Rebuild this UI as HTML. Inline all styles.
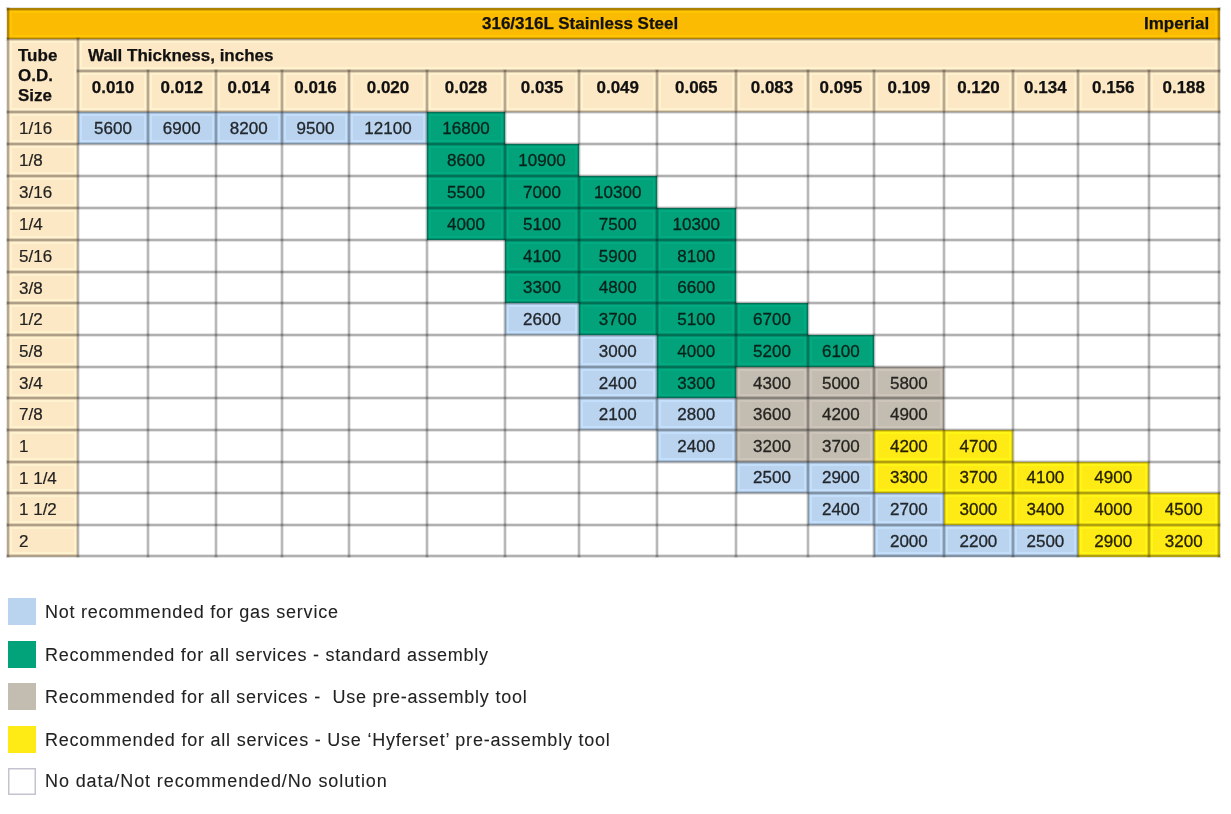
<!DOCTYPE html>
<html><head><meta charset="utf-8"><title>316/316L Stainless Steel - Imperial</title><style>
html,body{margin:0;padding:0;background:#fff;width:1231px;height:814px;overflow:hidden;position:relative}
div,i{position:absolute;box-sizing:border-box;display:block}
body{font-family:"Liberation Sans",sans-serif}
#w{position:absolute;left:0;top:0;width:1231px;height:814px;}
.b{font-weight:bold;-webkit-text-stroke:0.25px currentColor}
.t{font-size:17px;color:#111}
.hd{font-size:17px;color:#111}
.c{text-align:center}
.lb{font-size:17px;color:#222;-webkit-text-stroke:0.2px currentColor}
.n{font-size:17px;-webkit-text-stroke:0.3px currentColor}
.lg{font-size:18px;letter-spacing:0.72px;color:#222;white-space:nowrap;-webkit-text-stroke:0.08px currentColor}
</style></head><body><div id="w">
<i style="left:7px;top:7.5px;width:1213px;height:31.5px;background:#fbbb02"></i>
<i style="left:7px;top:39px;width:1213px;height:73px;background:#fde8c5"></i>
<i style="left:7px;top:112px;width:71px;height:445px;background:#fde8c5"></i>
<i style="left:78px;top:112px;width:70px;height:32px;background:#bad4ef"></i>
<i style="left:148px;top:112px;width:67.5px;height:32px;background:#bad4ef"></i>
<i style="left:215.5px;top:112px;width:66.5px;height:32px;background:#bad4ef"></i>
<i style="left:282px;top:112px;width:67px;height:32px;background:#bad4ef"></i>
<i style="left:349px;top:112px;width:78px;height:32px;background:#bad4ef"></i>
<i style="left:427px;top:112px;width:78px;height:32px;background:#02a27b"></i>
<i style="left:427px;top:144px;width:78px;height:32px;background:#02a27b"></i>
<i style="left:505px;top:144px;width:74px;height:32px;background:#02a27b"></i>
<i style="left:427px;top:176px;width:78px;height:32px;background:#02a27b"></i>
<i style="left:505px;top:176px;width:74px;height:32px;background:#02a27b"></i>
<i style="left:579px;top:176px;width:77.5px;height:32px;background:#02a27b"></i>
<i style="left:427px;top:208px;width:78px;height:32px;background:#02a27b"></i>
<i style="left:505px;top:208px;width:74px;height:32px;background:#02a27b"></i>
<i style="left:579px;top:208px;width:77.5px;height:32px;background:#02a27b"></i>
<i style="left:656.5px;top:208px;width:79.5px;height:32px;background:#02a27b"></i>
<i style="left:505px;top:240px;width:74px;height:31.5px;background:#02a27b"></i>
<i style="left:579px;top:240px;width:77.5px;height:31.5px;background:#02a27b"></i>
<i style="left:656.5px;top:240px;width:79.5px;height:31.5px;background:#02a27b"></i>
<i style="left:505px;top:271.5px;width:74px;height:31.5px;background:#02a27b"></i>
<i style="left:579px;top:271.5px;width:77.5px;height:31.5px;background:#02a27b"></i>
<i style="left:656.5px;top:271.5px;width:79.5px;height:31.5px;background:#02a27b"></i>
<i style="left:505px;top:303px;width:74px;height:32px;background:#bad4ef"></i>
<i style="left:579px;top:303px;width:77.5px;height:32px;background:#02a27b"></i>
<i style="left:656.5px;top:303px;width:79.5px;height:32px;background:#02a27b"></i>
<i style="left:736px;top:303px;width:72px;height:32px;background:#02a27b"></i>
<i style="left:579px;top:335px;width:77.5px;height:32px;background:#bad4ef"></i>
<i style="left:656.5px;top:335px;width:79.5px;height:32px;background:#02a27b"></i>
<i style="left:736px;top:335px;width:72px;height:32px;background:#02a27b"></i>
<i style="left:808px;top:335px;width:65.7px;height:32px;background:#02a27b"></i>
<i style="left:579px;top:367px;width:77.5px;height:31px;background:#bad4ef"></i>
<i style="left:656.5px;top:367px;width:79.5px;height:31px;background:#02a27b"></i>
<i style="left:736px;top:367px;width:72px;height:31px;background:#c3bcb1"></i>
<i style="left:808px;top:367px;width:65.7px;height:31px;background:#c3bcb1"></i>
<i style="left:873.7px;top:367px;width:70.3px;height:31px;background:#c3bcb1"></i>
<i style="left:579px;top:398px;width:77.5px;height:32px;background:#bad4ef"></i>
<i style="left:656.5px;top:398px;width:79.5px;height:32px;background:#bad4ef"></i>
<i style="left:736px;top:398px;width:72px;height:32px;background:#c3bcb1"></i>
<i style="left:808px;top:398px;width:65.7px;height:32px;background:#c3bcb1"></i>
<i style="left:873.7px;top:398px;width:70.3px;height:32px;background:#c3bcb1"></i>
<i style="left:656.5px;top:430px;width:79.5px;height:31.5px;background:#bad4ef"></i>
<i style="left:736px;top:430px;width:72px;height:31.5px;background:#c3bcb1"></i>
<i style="left:808px;top:430px;width:65.7px;height:31.5px;background:#c3bcb1"></i>
<i style="left:873.7px;top:430px;width:70.3px;height:31.5px;background:#feea14"></i>
<i style="left:944px;top:430px;width:68.8px;height:31.5px;background:#feea14"></i>
<i style="left:736px;top:461.5px;width:72px;height:31.5px;background:#bad4ef"></i>
<i style="left:808px;top:461.5px;width:65.7px;height:31.5px;background:#bad4ef"></i>
<i style="left:873.7px;top:461.5px;width:70.3px;height:31.5px;background:#feea14"></i>
<i style="left:944px;top:461.5px;width:68.8px;height:31.5px;background:#feea14"></i>
<i style="left:1012.8px;top:461.5px;width:65.2px;height:31.5px;background:#feea14"></i>
<i style="left:1078px;top:461.5px;width:70.5px;height:31.5px;background:#feea14"></i>
<i style="left:808px;top:493px;width:65.7px;height:32px;background:#bad4ef"></i>
<i style="left:873.7px;top:493px;width:70.3px;height:32px;background:#bad4ef"></i>
<i style="left:944px;top:493px;width:68.8px;height:32px;background:#feea14"></i>
<i style="left:1012.8px;top:493px;width:65.2px;height:32px;background:#feea14"></i>
<i style="left:1078px;top:493px;width:70.5px;height:32px;background:#feea14"></i>
<i style="left:1148.5px;top:493px;width:71.5px;height:32px;background:#feea14"></i>
<i style="left:873.7px;top:525px;width:70.3px;height:32px;background:#bad4ef"></i>
<i style="left:944px;top:525px;width:68.8px;height:32px;background:#bad4ef"></i>
<i style="left:1012.8px;top:525px;width:65.2px;height:32px;background:#bad4ef"></i>
<i style="left:1078px;top:525px;width:70.5px;height:32px;background:#feea14"></i>
<i style="left:1148.5px;top:525px;width:71.5px;height:32px;background:#feea14"></i>
<i style="left:10px;top:10.5px;width:1207px;height:26.5px;border:2px solid rgb(12,12,12);mix-blend-mode:color-dodge"></i>
<i style="left:10px;top:41px;width:66px;height:69px;border:2px solid rgb(12,12,12);mix-blend-mode:color-dodge"></i>
<i style="left:80px;top:41px;width:1137px;height:28px;border:2px solid rgb(12,12,12);mix-blend-mode:color-dodge"></i>
<i style="left:80px;top:73px;width:66px;height:37px;border:2px solid rgb(12,12,12);mix-blend-mode:color-dodge"></i>
<i style="left:150px;top:73px;width:63.5px;height:37px;border:2px solid rgb(12,12,12);mix-blend-mode:color-dodge"></i>
<i style="left:217.5px;top:73px;width:62.5px;height:37px;border:2px solid rgb(12,12,12);mix-blend-mode:color-dodge"></i>
<i style="left:284px;top:73px;width:63px;height:37px;border:2px solid rgb(12,12,12);mix-blend-mode:color-dodge"></i>
<i style="left:351px;top:73px;width:74px;height:37px;border:2px solid rgb(12,12,12);mix-blend-mode:color-dodge"></i>
<i style="left:429px;top:73px;width:74px;height:37px;border:2px solid rgb(12,12,12);mix-blend-mode:color-dodge"></i>
<i style="left:507px;top:73px;width:70px;height:37px;border:2px solid rgb(12,12,12);mix-blend-mode:color-dodge"></i>
<i style="left:581px;top:73px;width:73.5px;height:37px;border:2px solid rgb(12,12,12);mix-blend-mode:color-dodge"></i>
<i style="left:658.5px;top:73px;width:75.5px;height:37px;border:2px solid rgb(12,12,12);mix-blend-mode:color-dodge"></i>
<i style="left:738px;top:73px;width:68px;height:37px;border:2px solid rgb(12,12,12);mix-blend-mode:color-dodge"></i>
<i style="left:810px;top:73px;width:61.7px;height:37px;border:2px solid rgb(12,12,12);mix-blend-mode:color-dodge"></i>
<i style="left:875.7px;top:73px;width:66.3px;height:37px;border:2px solid rgb(12,12,12);mix-blend-mode:color-dodge"></i>
<i style="left:946px;top:73px;width:64.8px;height:37px;border:2px solid rgb(12,12,12);mix-blend-mode:color-dodge"></i>
<i style="left:1014.8px;top:73px;width:61.2px;height:37px;border:2px solid rgb(12,12,12);mix-blend-mode:color-dodge"></i>
<i style="left:1080px;top:73px;width:66.5px;height:37px;border:2px solid rgb(12,12,12);mix-blend-mode:color-dodge"></i>
<i style="left:1150.5px;top:73px;width:66.5px;height:37px;border:2px solid rgb(12,12,12);mix-blend-mode:color-dodge"></i>
<i style="left:10px;top:114px;width:66px;height:28px;border:2px solid rgb(12,12,12);mix-blend-mode:color-dodge"></i>
<i style="left:10px;top:146px;width:66px;height:28px;border:2px solid rgb(12,12,12);mix-blend-mode:color-dodge"></i>
<i style="left:10px;top:178px;width:66px;height:28px;border:2px solid rgb(12,12,12);mix-blend-mode:color-dodge"></i>
<i style="left:10px;top:210px;width:66px;height:28px;border:2px solid rgb(12,12,12);mix-blend-mode:color-dodge"></i>
<i style="left:10px;top:242px;width:66px;height:27.5px;border:2px solid rgb(12,12,12);mix-blend-mode:color-dodge"></i>
<i style="left:10px;top:273.5px;width:66px;height:27.5px;border:2px solid rgb(12,12,12);mix-blend-mode:color-dodge"></i>
<i style="left:10px;top:305px;width:66px;height:28px;border:2px solid rgb(12,12,12);mix-blend-mode:color-dodge"></i>
<i style="left:10px;top:337px;width:66px;height:28px;border:2px solid rgb(12,12,12);mix-blend-mode:color-dodge"></i>
<i style="left:10px;top:369px;width:66px;height:27px;border:2px solid rgb(12,12,12);mix-blend-mode:color-dodge"></i>
<i style="left:10px;top:400px;width:66px;height:28px;border:2px solid rgb(12,12,12);mix-blend-mode:color-dodge"></i>
<i style="left:10px;top:432px;width:66px;height:27.5px;border:2px solid rgb(12,12,12);mix-blend-mode:color-dodge"></i>
<i style="left:10px;top:463.5px;width:66px;height:27.5px;border:2px solid rgb(12,12,12);mix-blend-mode:color-dodge"></i>
<i style="left:10px;top:495px;width:66px;height:28px;border:2px solid rgb(12,12,12);mix-blend-mode:color-dodge"></i>
<i style="left:10px;top:527px;width:66px;height:27px;border:2px solid rgb(12,12,12);mix-blend-mode:color-dodge"></i>
<i style="left:80px;top:114px;width:66px;height:28px;border:2px solid rgb(12,12,12);mix-blend-mode:color-dodge"></i>
<i style="left:150px;top:114px;width:63.5px;height:28px;border:2px solid rgb(12,12,12);mix-blend-mode:color-dodge"></i>
<i style="left:217.5px;top:114px;width:62.5px;height:28px;border:2px solid rgb(12,12,12);mix-blend-mode:color-dodge"></i>
<i style="left:284px;top:114px;width:63px;height:28px;border:2px solid rgb(12,12,12);mix-blend-mode:color-dodge"></i>
<i style="left:351px;top:114px;width:74px;height:28px;border:2px solid rgb(12,12,12);mix-blend-mode:color-dodge"></i>
<i style="left:429px;top:114px;width:74px;height:28px;border:2px solid rgb(12,12,12);mix-blend-mode:color-dodge"></i>
<i style="left:429px;top:146px;width:74px;height:28px;border:2px solid rgb(12,12,12);mix-blend-mode:color-dodge"></i>
<i style="left:507px;top:146px;width:70px;height:28px;border:2px solid rgb(12,12,12);mix-blend-mode:color-dodge"></i>
<i style="left:429px;top:178px;width:74px;height:28px;border:2px solid rgb(12,12,12);mix-blend-mode:color-dodge"></i>
<i style="left:507px;top:178px;width:70px;height:28px;border:2px solid rgb(12,12,12);mix-blend-mode:color-dodge"></i>
<i style="left:581px;top:178px;width:73.5px;height:28px;border:2px solid rgb(12,12,12);mix-blend-mode:color-dodge"></i>
<i style="left:429px;top:210px;width:74px;height:28px;border:2px solid rgb(12,12,12);mix-blend-mode:color-dodge"></i>
<i style="left:507px;top:210px;width:70px;height:28px;border:2px solid rgb(12,12,12);mix-blend-mode:color-dodge"></i>
<i style="left:581px;top:210px;width:73.5px;height:28px;border:2px solid rgb(12,12,12);mix-blend-mode:color-dodge"></i>
<i style="left:658.5px;top:210px;width:75.5px;height:28px;border:2px solid rgb(12,12,12);mix-blend-mode:color-dodge"></i>
<i style="left:507px;top:242px;width:70px;height:27.5px;border:2px solid rgb(12,12,12);mix-blend-mode:color-dodge"></i>
<i style="left:581px;top:242px;width:73.5px;height:27.5px;border:2px solid rgb(12,12,12);mix-blend-mode:color-dodge"></i>
<i style="left:658.5px;top:242px;width:75.5px;height:27.5px;border:2px solid rgb(12,12,12);mix-blend-mode:color-dodge"></i>
<i style="left:507px;top:273.5px;width:70px;height:27.5px;border:2px solid rgb(12,12,12);mix-blend-mode:color-dodge"></i>
<i style="left:581px;top:273.5px;width:73.5px;height:27.5px;border:2px solid rgb(12,12,12);mix-blend-mode:color-dodge"></i>
<i style="left:658.5px;top:273.5px;width:75.5px;height:27.5px;border:2px solid rgb(12,12,12);mix-blend-mode:color-dodge"></i>
<i style="left:507px;top:305px;width:70px;height:28px;border:2px solid rgb(12,12,12);mix-blend-mode:color-dodge"></i>
<i style="left:581px;top:305px;width:73.5px;height:28px;border:2px solid rgb(12,12,12);mix-blend-mode:color-dodge"></i>
<i style="left:658.5px;top:305px;width:75.5px;height:28px;border:2px solid rgb(12,12,12);mix-blend-mode:color-dodge"></i>
<i style="left:738px;top:305px;width:68px;height:28px;border:2px solid rgb(12,12,12);mix-blend-mode:color-dodge"></i>
<i style="left:581px;top:337px;width:73.5px;height:28px;border:2px solid rgb(12,12,12);mix-blend-mode:color-dodge"></i>
<i style="left:658.5px;top:337px;width:75.5px;height:28px;border:2px solid rgb(12,12,12);mix-blend-mode:color-dodge"></i>
<i style="left:738px;top:337px;width:68px;height:28px;border:2px solid rgb(12,12,12);mix-blend-mode:color-dodge"></i>
<i style="left:810px;top:337px;width:61.7px;height:28px;border:2px solid rgb(12,12,12);mix-blend-mode:color-dodge"></i>
<i style="left:581px;top:369px;width:73.5px;height:27px;border:2px solid rgb(12,12,12);mix-blend-mode:color-dodge"></i>
<i style="left:658.5px;top:369px;width:75.5px;height:27px;border:2px solid rgb(12,12,12);mix-blend-mode:color-dodge"></i>
<i style="left:738px;top:369px;width:68px;height:27px;border:2px solid rgb(12,12,12);mix-blend-mode:color-dodge"></i>
<i style="left:810px;top:369px;width:61.7px;height:27px;border:2px solid rgb(12,12,12);mix-blend-mode:color-dodge"></i>
<i style="left:875.7px;top:369px;width:66.3px;height:27px;border:2px solid rgb(12,12,12);mix-blend-mode:color-dodge"></i>
<i style="left:581px;top:400px;width:73.5px;height:28px;border:2px solid rgb(12,12,12);mix-blend-mode:color-dodge"></i>
<i style="left:658.5px;top:400px;width:75.5px;height:28px;border:2px solid rgb(12,12,12);mix-blend-mode:color-dodge"></i>
<i style="left:738px;top:400px;width:68px;height:28px;border:2px solid rgb(12,12,12);mix-blend-mode:color-dodge"></i>
<i style="left:810px;top:400px;width:61.7px;height:28px;border:2px solid rgb(12,12,12);mix-blend-mode:color-dodge"></i>
<i style="left:875.7px;top:400px;width:66.3px;height:28px;border:2px solid rgb(12,12,12);mix-blend-mode:color-dodge"></i>
<i style="left:658.5px;top:432px;width:75.5px;height:27.5px;border:2px solid rgb(12,12,12);mix-blend-mode:color-dodge"></i>
<i style="left:738px;top:432px;width:68px;height:27.5px;border:2px solid rgb(12,12,12);mix-blend-mode:color-dodge"></i>
<i style="left:810px;top:432px;width:61.7px;height:27.5px;border:2px solid rgb(12,12,12);mix-blend-mode:color-dodge"></i>
<i style="left:875.7px;top:432px;width:66.3px;height:27.5px;border:2px solid rgb(12,12,12);mix-blend-mode:color-dodge"></i>
<i style="left:946px;top:432px;width:64.8px;height:27.5px;border:2px solid rgb(12,12,12);mix-blend-mode:color-dodge"></i>
<i style="left:738px;top:463.5px;width:68px;height:27.5px;border:2px solid rgb(12,12,12);mix-blend-mode:color-dodge"></i>
<i style="left:810px;top:463.5px;width:61.7px;height:27.5px;border:2px solid rgb(12,12,12);mix-blend-mode:color-dodge"></i>
<i style="left:875.7px;top:463.5px;width:66.3px;height:27.5px;border:2px solid rgb(12,12,12);mix-blend-mode:color-dodge"></i>
<i style="left:946px;top:463.5px;width:64.8px;height:27.5px;border:2px solid rgb(12,12,12);mix-blend-mode:color-dodge"></i>
<i style="left:1014.8px;top:463.5px;width:61.2px;height:27.5px;border:2px solid rgb(12,12,12);mix-blend-mode:color-dodge"></i>
<i style="left:1080px;top:463.5px;width:66.5px;height:27.5px;border:2px solid rgb(12,12,12);mix-blend-mode:color-dodge"></i>
<i style="left:810px;top:495px;width:61.7px;height:28px;border:2px solid rgb(12,12,12);mix-blend-mode:color-dodge"></i>
<i style="left:875.7px;top:495px;width:66.3px;height:28px;border:2px solid rgb(12,12,12);mix-blend-mode:color-dodge"></i>
<i style="left:946px;top:495px;width:64.8px;height:28px;border:2px solid rgb(12,12,12);mix-blend-mode:color-dodge"></i>
<i style="left:1014.8px;top:495px;width:61.2px;height:28px;border:2px solid rgb(12,12,12);mix-blend-mode:color-dodge"></i>
<i style="left:1080px;top:495px;width:66.5px;height:28px;border:2px solid rgb(12,12,12);mix-blend-mode:color-dodge"></i>
<i style="left:1150.5px;top:495px;width:66.5px;height:28px;border:2px solid rgb(12,12,12);mix-blend-mode:color-dodge"></i>
<i style="left:875.7px;top:527px;width:66.3px;height:27px;border:2px solid rgb(12,12,12);mix-blend-mode:color-dodge"></i>
<i style="left:946px;top:527px;width:64.8px;height:27px;border:2px solid rgb(12,12,12);mix-blend-mode:color-dodge"></i>
<i style="left:1014.8px;top:527px;width:61.2px;height:27px;border:2px solid rgb(12,12,12);mix-blend-mode:color-dodge"></i>
<i style="left:1080px;top:527px;width:66.5px;height:27px;border:2px solid rgb(12,12,12);mix-blend-mode:color-dodge"></i>
<i style="left:1150.5px;top:527px;width:66.5px;height:27px;border:2px solid rgb(12,12,12);mix-blend-mode:color-dodge"></i>
<i style="left:7px;top:7.5px;width:1213px;height:2px;background:rgba(0,0,0,0.31);box-shadow:0 0 0 1px rgba(0,0,0,0.1)"></i>
<i style="left:7px;top:38px;width:1213px;height:2px;background:rgba(0,0,0,0.31);box-shadow:0 0 0 1px rgba(0,0,0,0.1)"></i>
<i style="left:77px;top:70px;width:1143px;height:2px;background:rgba(0,0,0,0.31);box-shadow:0 0 0 1px rgba(0,0,0,0.1)"></i>
<i style="left:7px;top:111px;width:1213px;height:2px;background:rgba(0,0,0,0.31);box-shadow:0 0 0 1px rgba(0,0,0,0.1)"></i>
<i style="left:7px;top:143px;width:1213px;height:2px;background:rgba(0,0,0,0.31);box-shadow:0 0 0 1px rgba(0,0,0,0.1)"></i>
<i style="left:7px;top:175px;width:1213px;height:2px;background:rgba(0,0,0,0.31);box-shadow:0 0 0 1px rgba(0,0,0,0.1)"></i>
<i style="left:7px;top:207px;width:1213px;height:2px;background:rgba(0,0,0,0.31);box-shadow:0 0 0 1px rgba(0,0,0,0.1)"></i>
<i style="left:7px;top:239px;width:1213px;height:2px;background:rgba(0,0,0,0.31);box-shadow:0 0 0 1px rgba(0,0,0,0.1)"></i>
<i style="left:7px;top:270.5px;width:1213px;height:2px;background:rgba(0,0,0,0.31);box-shadow:0 0 0 1px rgba(0,0,0,0.1)"></i>
<i style="left:7px;top:302px;width:1213px;height:2px;background:rgba(0,0,0,0.31);box-shadow:0 0 0 1px rgba(0,0,0,0.1)"></i>
<i style="left:7px;top:334px;width:1213px;height:2px;background:rgba(0,0,0,0.31);box-shadow:0 0 0 1px rgba(0,0,0,0.1)"></i>
<i style="left:7px;top:366px;width:1213px;height:2px;background:rgba(0,0,0,0.31);box-shadow:0 0 0 1px rgba(0,0,0,0.1)"></i>
<i style="left:7px;top:397px;width:1213px;height:2px;background:rgba(0,0,0,0.31);box-shadow:0 0 0 1px rgba(0,0,0,0.1)"></i>
<i style="left:7px;top:429px;width:1213px;height:2px;background:rgba(0,0,0,0.31);box-shadow:0 0 0 1px rgba(0,0,0,0.1)"></i>
<i style="left:7px;top:460.5px;width:1213px;height:2px;background:rgba(0,0,0,0.31);box-shadow:0 0 0 1px rgba(0,0,0,0.1)"></i>
<i style="left:7px;top:492px;width:1213px;height:2px;background:rgba(0,0,0,0.31);box-shadow:0 0 0 1px rgba(0,0,0,0.1)"></i>
<i style="left:7px;top:524px;width:1213px;height:2px;background:rgba(0,0,0,0.31);box-shadow:0 0 0 1px rgba(0,0,0,0.1)"></i>
<i style="left:7px;top:555px;width:1213px;height:2px;background:rgba(0,0,0,0.31);box-shadow:0 0 0 1px rgba(0,0,0,0.1)"></i>
<i style="left:7px;top:7.5px;width:2px;height:549.5px;background:rgba(0,0,0,0.28);box-shadow:0 0 0 1px rgba(0,0,0,0.09)"></i>
<i style="left:1218px;top:7.5px;width:2px;height:549.5px;background:rgba(0,0,0,0.28);box-shadow:0 0 0 1px rgba(0,0,0,0.09)"></i>
<i style="left:77px;top:38px;width:2px;height:519px;background:rgba(0,0,0,0.28);box-shadow:0 0 0 1px rgba(0,0,0,0.09)"></i>
<i style="left:147px;top:70px;width:2px;height:487px;background:rgba(0,0,0,0.28);box-shadow:0 0 0 1px rgba(0,0,0,0.09)"></i>
<i style="left:214.5px;top:70px;width:2px;height:487px;background:rgba(0,0,0,0.28);box-shadow:0 0 0 1px rgba(0,0,0,0.09)"></i>
<i style="left:281px;top:70px;width:2px;height:487px;background:rgba(0,0,0,0.28);box-shadow:0 0 0 1px rgba(0,0,0,0.09)"></i>
<i style="left:348px;top:70px;width:2px;height:487px;background:rgba(0,0,0,0.28);box-shadow:0 0 0 1px rgba(0,0,0,0.09)"></i>
<i style="left:426px;top:70px;width:2px;height:487px;background:rgba(0,0,0,0.28);box-shadow:0 0 0 1px rgba(0,0,0,0.09)"></i>
<i style="left:504px;top:70px;width:2px;height:487px;background:rgba(0,0,0,0.28);box-shadow:0 0 0 1px rgba(0,0,0,0.09)"></i>
<i style="left:578px;top:70px;width:2px;height:487px;background:rgba(0,0,0,0.28);box-shadow:0 0 0 1px rgba(0,0,0,0.09)"></i>
<i style="left:655.5px;top:70px;width:2px;height:487px;background:rgba(0,0,0,0.28);box-shadow:0 0 0 1px rgba(0,0,0,0.09)"></i>
<i style="left:735px;top:70px;width:2px;height:487px;background:rgba(0,0,0,0.28);box-shadow:0 0 0 1px rgba(0,0,0,0.09)"></i>
<i style="left:807px;top:70px;width:2px;height:487px;background:rgba(0,0,0,0.28);box-shadow:0 0 0 1px rgba(0,0,0,0.09)"></i>
<i style="left:872.7px;top:70px;width:2px;height:487px;background:rgba(0,0,0,0.28);box-shadow:0 0 0 1px rgba(0,0,0,0.09)"></i>
<i style="left:943px;top:70px;width:2px;height:487px;background:rgba(0,0,0,0.28);box-shadow:0 0 0 1px rgba(0,0,0,0.09)"></i>
<i style="left:1011.8px;top:70px;width:2px;height:487px;background:rgba(0,0,0,0.28);box-shadow:0 0 0 1px rgba(0,0,0,0.09)"></i>
<i style="left:1077px;top:70px;width:2px;height:487px;background:rgba(0,0,0,0.28);box-shadow:0 0 0 1px rgba(0,0,0,0.09)"></i>
<i style="left:1147.5px;top:70px;width:2px;height:487px;background:rgba(0,0,0,0.28);box-shadow:0 0 0 1px rgba(0,0,0,0.09)"></i>
<div class="b t" style="left:482px;top:8.5px;height:30.5px;line-height:30.5px">316/316L Stainless Steel</div>
<div class="b t" style="left:1144px;top:8.5px;height:30.5px;line-height:30.5px">Imperial</div>
<div class="b hd" style="left:18px;top:45.7px;line-height:20px">Tube<br>O.D.<br>Size</div>
<div class="b hd" style="left:88px;top:39.5px;height:32px;line-height:32px">Wall Thickness, inches</div>
<div class="b hd c" style="left:78px;top:67px;width:70px;height:41px;line-height:41px">0.010</div>
<div class="b hd c" style="left:148px;top:67px;width:67.5px;height:41px;line-height:41px">0.012</div>
<div class="b hd c" style="left:215.5px;top:67px;width:66.5px;height:41px;line-height:41px">0.014</div>
<div class="b hd c" style="left:282px;top:67px;width:67px;height:41px;line-height:41px">0.016</div>
<div class="b hd c" style="left:349px;top:67px;width:78px;height:41px;line-height:41px">0.020</div>
<div class="b hd c" style="left:427px;top:67px;width:78px;height:41px;line-height:41px">0.028</div>
<div class="b hd c" style="left:505px;top:67px;width:74px;height:41px;line-height:41px">0.035</div>
<div class="b hd c" style="left:579px;top:67px;width:77.5px;height:41px;line-height:41px">0.049</div>
<div class="b hd c" style="left:656.5px;top:67px;width:79.5px;height:41px;line-height:41px">0.065</div>
<div class="b hd c" style="left:736px;top:67px;width:72px;height:41px;line-height:41px">0.083</div>
<div class="b hd c" style="left:808px;top:67px;width:65.7px;height:41px;line-height:41px">0.095</div>
<div class="b hd c" style="left:873.7px;top:67px;width:70.3px;height:41px;line-height:41px">0.109</div>
<div class="b hd c" style="left:944px;top:67px;width:68.8px;height:41px;line-height:41px">0.120</div>
<div class="b hd c" style="left:1012.8px;top:67px;width:65.2px;height:41px;line-height:41px">0.134</div>
<div class="b hd c" style="left:1078px;top:67px;width:70.5px;height:41px;line-height:41px">0.156</div>
<div class="b hd c" style="left:1148.5px;top:67px;width:70.5px;height:41px;line-height:41px">0.188</div>
<div class="lb" style="left:19px;top:113px;height:32px;line-height:32px">1/16</div>
<div class="lb" style="left:19px;top:145px;height:32px;line-height:32px">1/8</div>
<div class="lb" style="left:19px;top:177px;height:32px;line-height:32px">3/16</div>
<div class="lb" style="left:19px;top:209px;height:32px;line-height:32px">1/4</div>
<div class="lb" style="left:19px;top:241px;height:31.5px;line-height:31.5px">5/16</div>
<div class="lb" style="left:19px;top:272.5px;height:31.5px;line-height:31.5px">3/8</div>
<div class="lb" style="left:19px;top:304px;height:32px;line-height:32px">1/2</div>
<div class="lb" style="left:19px;top:336px;height:32px;line-height:32px">5/8</div>
<div class="lb" style="left:19px;top:368px;height:31px;line-height:31px">3/4</div>
<div class="lb" style="left:19px;top:399px;height:32px;line-height:32px">7/8</div>
<div class="lb" style="left:19px;top:431px;height:31.5px;line-height:31.5px">1</div>
<div class="lb" style="left:19px;top:462.5px;height:31.5px;line-height:31.5px">1 1/4</div>
<div class="lb" style="left:19px;top:494px;height:32px;line-height:32px">1 1/2</div>
<div class="lb" style="left:19px;top:526px;height:31px;line-height:31px">2</div>
<div class="n c" style="left:78px;top:112.8px;width:70px;height:32px;line-height:32px;color:#23272c">5600</div>
<div class="n c" style="left:148px;top:112.8px;width:67.5px;height:32px;line-height:32px;color:#23272c">6900</div>
<div class="n c" style="left:215.5px;top:112.8px;width:66.5px;height:32px;line-height:32px;color:#23272c">8200</div>
<div class="n c" style="left:282px;top:112.8px;width:67px;height:32px;line-height:32px;color:#23272c">9500</div>
<div class="n c" style="left:349px;top:112.8px;width:78px;height:32px;line-height:32px;color:#23272c">12100</div>
<div class="n c" style="left:427px;top:112.8px;width:78px;height:32px;line-height:32px;color:#06221a">16800</div>
<div class="n c" style="left:427px;top:144.8px;width:78px;height:32px;line-height:32px;color:#06221a">8600</div>
<div class="n c" style="left:505px;top:144.8px;width:74px;height:32px;line-height:32px;color:#06221a">10900</div>
<div class="n c" style="left:427px;top:176.8px;width:78px;height:32px;line-height:32px;color:#06221a">5500</div>
<div class="n c" style="left:505px;top:176.8px;width:74px;height:32px;line-height:32px;color:#06221a">7000</div>
<div class="n c" style="left:579px;top:176.8px;width:77.5px;height:32px;line-height:32px;color:#06221a">10300</div>
<div class="n c" style="left:427px;top:208.8px;width:78px;height:32px;line-height:32px;color:#06221a">4000</div>
<div class="n c" style="left:505px;top:208.8px;width:74px;height:32px;line-height:32px;color:#06221a">5100</div>
<div class="n c" style="left:579px;top:208.8px;width:77.5px;height:32px;line-height:32px;color:#06221a">7500</div>
<div class="n c" style="left:656.5px;top:208.8px;width:79.5px;height:32px;line-height:32px;color:#06221a">10300</div>
<div class="n c" style="left:505px;top:240.8px;width:74px;height:31.5px;line-height:31.5px;color:#06221a">4100</div>
<div class="n c" style="left:579px;top:240.8px;width:77.5px;height:31.5px;line-height:31.5px;color:#06221a">5900</div>
<div class="n c" style="left:656.5px;top:240.8px;width:79.5px;height:31.5px;line-height:31.5px;color:#06221a">8100</div>
<div class="n c" style="left:505px;top:272.3px;width:74px;height:31.5px;line-height:31.5px;color:#06221a">3300</div>
<div class="n c" style="left:579px;top:272.3px;width:77.5px;height:31.5px;line-height:31.5px;color:#06221a">4800</div>
<div class="n c" style="left:656.5px;top:272.3px;width:79.5px;height:31.5px;line-height:31.5px;color:#06221a">6600</div>
<div class="n c" style="left:505px;top:303.8px;width:74px;height:32px;line-height:32px;color:#23272c">2600</div>
<div class="n c" style="left:579px;top:303.8px;width:77.5px;height:32px;line-height:32px;color:#06221a">3700</div>
<div class="n c" style="left:656.5px;top:303.8px;width:79.5px;height:32px;line-height:32px;color:#06221a">5100</div>
<div class="n c" style="left:736px;top:303.8px;width:72px;height:32px;line-height:32px;color:#06221a">6700</div>
<div class="n c" style="left:579px;top:335.8px;width:77.5px;height:32px;line-height:32px;color:#23272c">3000</div>
<div class="n c" style="left:656.5px;top:335.8px;width:79.5px;height:32px;line-height:32px;color:#06221a">4000</div>
<div class="n c" style="left:736px;top:335.8px;width:72px;height:32px;line-height:32px;color:#06221a">5200</div>
<div class="n c" style="left:808px;top:335.8px;width:65.7px;height:32px;line-height:32px;color:#06221a">6100</div>
<div class="n c" style="left:579px;top:367.8px;width:77.5px;height:31px;line-height:31px;color:#23272c">2400</div>
<div class="n c" style="left:656.5px;top:367.8px;width:79.5px;height:31px;line-height:31px;color:#06221a">3300</div>
<div class="n c" style="left:736px;top:367.8px;width:72px;height:31px;line-height:31px;color:#262420">4300</div>
<div class="n c" style="left:808px;top:367.8px;width:65.7px;height:31px;line-height:31px;color:#262420">5000</div>
<div class="n c" style="left:873.7px;top:367.8px;width:70.3px;height:31px;line-height:31px;color:#262420">5800</div>
<div class="n c" style="left:579px;top:398.8px;width:77.5px;height:32px;line-height:32px;color:#23272c">2100</div>
<div class="n c" style="left:656.5px;top:398.8px;width:79.5px;height:32px;line-height:32px;color:#23272c">2800</div>
<div class="n c" style="left:736px;top:398.8px;width:72px;height:32px;line-height:32px;color:#262420">3600</div>
<div class="n c" style="left:808px;top:398.8px;width:65.7px;height:32px;line-height:32px;color:#262420">4200</div>
<div class="n c" style="left:873.7px;top:398.8px;width:70.3px;height:32px;line-height:32px;color:#262420">4900</div>
<div class="n c" style="left:656.5px;top:430.8px;width:79.5px;height:31.5px;line-height:31.5px;color:#23272c">2400</div>
<div class="n c" style="left:736px;top:430.8px;width:72px;height:31.5px;line-height:31.5px;color:#262420">3200</div>
<div class="n c" style="left:808px;top:430.8px;width:65.7px;height:31.5px;line-height:31.5px;color:#262420">3700</div>
<div class="n c" style="left:873.7px;top:430.8px;width:70.3px;height:31.5px;line-height:31.5px;color:#262200">4200</div>
<div class="n c" style="left:944px;top:430.8px;width:68.8px;height:31.5px;line-height:31.5px;color:#262200">4700</div>
<div class="n c" style="left:736px;top:462.3px;width:72px;height:31.5px;line-height:31.5px;color:#23272c">2500</div>
<div class="n c" style="left:808px;top:462.3px;width:65.7px;height:31.5px;line-height:31.5px;color:#23272c">2900</div>
<div class="n c" style="left:873.7px;top:462.3px;width:70.3px;height:31.5px;line-height:31.5px;color:#262200">3300</div>
<div class="n c" style="left:944px;top:462.3px;width:68.8px;height:31.5px;line-height:31.5px;color:#262200">3700</div>
<div class="n c" style="left:1012.8px;top:462.3px;width:65.2px;height:31.5px;line-height:31.5px;color:#262200">4100</div>
<div class="n c" style="left:1078px;top:462.3px;width:70.5px;height:31.5px;line-height:31.5px;color:#262200">4900</div>
<div class="n c" style="left:808px;top:493.8px;width:65.7px;height:32px;line-height:32px;color:#23272c">2400</div>
<div class="n c" style="left:873.7px;top:493.8px;width:70.3px;height:32px;line-height:32px;color:#23272c">2700</div>
<div class="n c" style="left:944px;top:493.8px;width:68.8px;height:32px;line-height:32px;color:#262200">3000</div>
<div class="n c" style="left:1012.8px;top:493.8px;width:65.2px;height:32px;line-height:32px;color:#262200">3400</div>
<div class="n c" style="left:1078px;top:493.8px;width:70.5px;height:32px;line-height:32px;color:#262200">4000</div>
<div class="n c" style="left:1148.5px;top:493.8px;width:70.5px;height:32px;line-height:32px;color:#262200">4500</div>
<div class="n c" style="left:873.7px;top:525.8px;width:70.3px;height:31px;line-height:31px;color:#23272c">2000</div>
<div class="n c" style="left:944px;top:525.8px;width:68.8px;height:31px;line-height:31px;color:#23272c">2200</div>
<div class="n c" style="left:1012.8px;top:525.8px;width:65.2px;height:31px;line-height:31px;color:#23272c">2500</div>
<div class="n c" style="left:1078px;top:525.8px;width:70.5px;height:31px;line-height:31px;color:#262200">2900</div>
<div class="n c" style="left:1148.5px;top:525.8px;width:70.5px;height:31px;line-height:31px;color:#262200">3200</div>
<i style="left:7.5px;top:598.3px;width:28.5px;height:27px;background:#bad4ef;"></i>
<div class="lg" style="left:45px;top:597.3px;height:31px;line-height:31px;letter-spacing:0.76px">Not recommended for gas service</div>
<i style="left:7.5px;top:641.1px;width:28.5px;height:27px;background:#02a27b;"></i>
<div class="lg" style="left:45px;top:640.1px;height:31px;line-height:31px;letter-spacing:0.72px">Recommended for all services - standard assembly</div>
<i style="left:7.5px;top:683.2px;width:28.5px;height:27px;background:#c3bcb1;"></i>
<div class="lg" style="left:45px;top:682.2px;height:31px;line-height:31px;letter-spacing:0.76px">Recommended for all services -&nbsp; Use pre-assembly tool</div>
<i style="left:7.5px;top:725.8px;width:28.5px;height:27px;background:#feea14;"></i>
<div class="lg" style="left:45px;top:724.8px;height:31px;line-height:31px;letter-spacing:0.78px">Recommended for all services - Use ‘Hyferset’ pre-assembly tool</div>
<i style="left:7.5px;top:767.8px;width:28.5px;height:27px;background:#ffffff;box-shadow:inset 0 0 0 1.5px #c4c4d0;"></i>
<div class="lg" style="left:45px;top:766.3px;height:31px;line-height:31px;letter-spacing:0.9px">No data/Not recommended/No solution</div>
</div></body></html>
